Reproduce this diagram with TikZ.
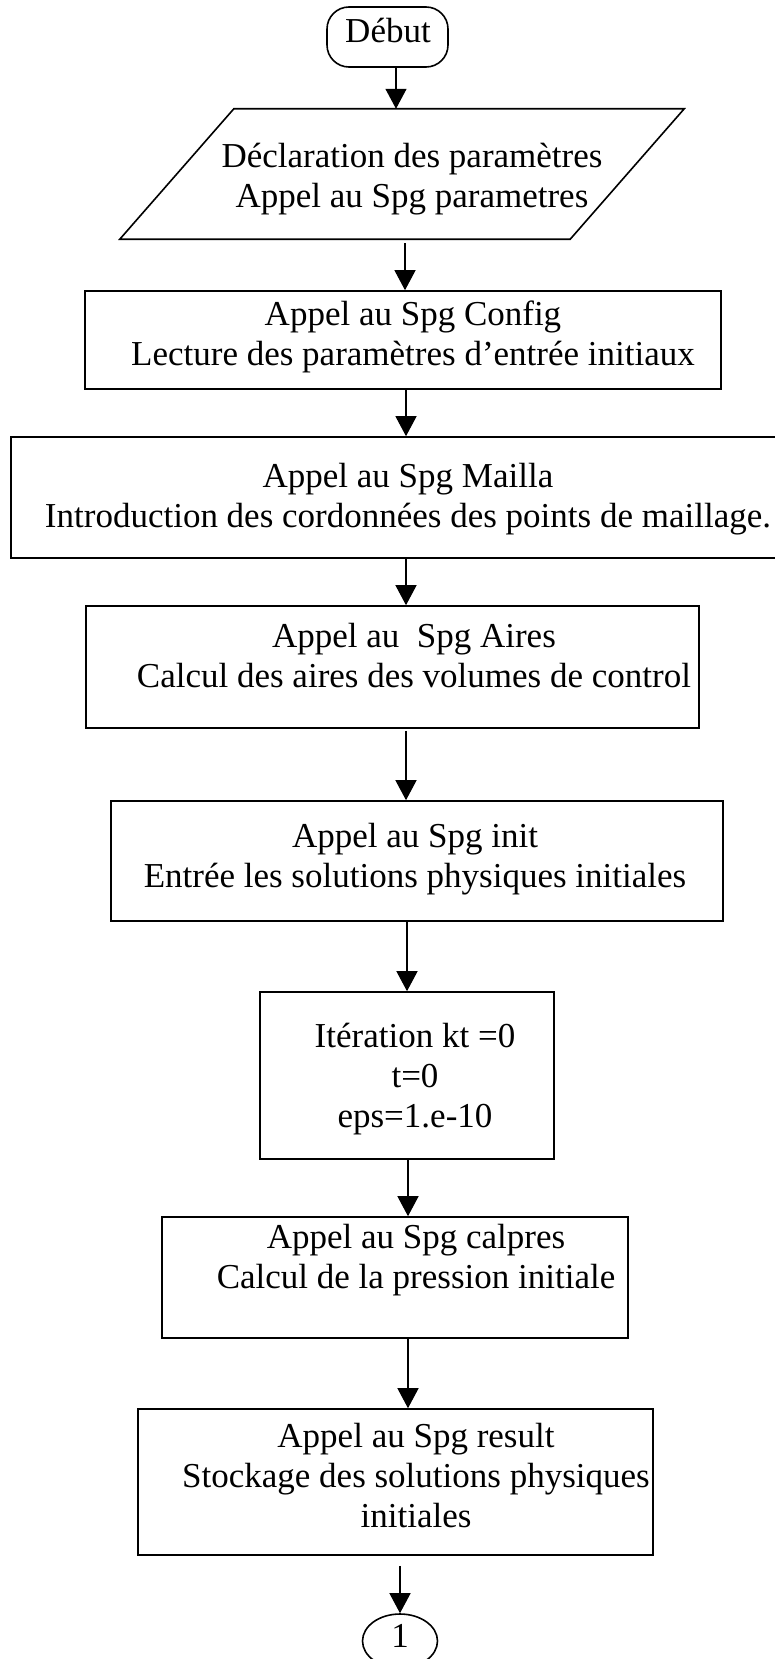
\documentclass[tikz,border=0pt]{standalone}
\usepackage{fontspec}
\setmainfont{Liberation Serif}
\usetikzlibrary{shapes.geometric,arrows.meta}

% centred block of lines whose reference point is the first baseline
\newcommand{\flowtext}[1]{\parbox[t]{760pt}{\centering #1}}

\tikzset{
  box/.style={draw, line width=1.6pt, inner sep=0pt},
  arr/.style={draw, line width=1.3pt, -{Triangle[length=20pt,width=21pt]}},
  txt/.style={anchor=base, inner sep=0pt, font=\fontsize{35}{40}\selectfont},
}

\begin{document}
\begin{tikzpicture}[x=1pt, y=-1pt]
\useasboundingbox (0,0) rectangle (774,1659);
\fill[white] (0,0) rectangle (774,1659);

% shapes
\node[box, rounded corners=22pt, minimum width=121pt, minimum height=60pt] (deb) at (387.5,37) {};
\node[inner sep=0pt, minimum width=450pt, minimum height=130pt] (par) at (402,174) {};
\draw[line width=1.6pt] ([xshift=57pt]par.north west) -- ([xshift=57pt]par.north east)
  -- ([xshift=-57pt]par.south east) -- ([xshift=-57pt]par.south west) -- cycle;
\node[box, minimum width=636pt, minimum height=98pt]  (cfg) at (403,340) {};
\node[box, minimum width=779pt, minimum height=121pt] (mai) at (400.5,497.5) {};
\node[box, minimum width=613pt, minimum height=122pt] (air) at (392.5,667) {};
\node[box, minimum width=612pt, minimum height=120pt] (ini) at (417,861) {};
\node[box, minimum width=294pt, minimum height=167pt] (ite) at (407,1075.5) {};
\node[box, minimum width=466pt, minimum height=121pt] (cal) at (395,1277.5) {};
\node[box, minimum width=515pt, minimum height=146pt] (res) at (395.5,1482) {};
\node[ellipse, draw, line width=1.6pt, inner sep=0pt, minimum width=75pt, minimum height=54pt] (con) at (400,1641) {};

% texts
\node[txt] (tdeb) at (388,43) {\flowtext{Début}};
\node[txt] (tpar) at (412,167) {\flowtext{Déclaration des paramètres\\Appel au Spg parametres}};
\node[txt] (tcfg) at (413,325) {\flowtext{Appel au Spg Config\\Lecture des paramètres d’entrée initiaux}};
\node[txt] (tmai) at (408,487) {\flowtext{Appel au Spg Mailla\\Introduction des cordonnées des points de maillage.}};
\node[txt] (tair) at (414,647) {\flowtext{Appel au\ \ Spg Aires\\Calcul des aires des volumes de control}};
\node[txt] (tini) at (415,847) {\flowtext{Appel au Spg init\\Entrée les solutions physiques initiales}};
\node[txt] (tite) at (415,1047) {\flowtext{Itération kt =0\\t=0\\eps=1.e-10}};
\node[txt] (tcal) at (416,1248) {\flowtext{Appel au Spg calpres\\Calcul de la pression initiale}};
\node[txt] (tres) at (416,1447) {\flowtext{Appel au Spg result\\Stockage des solutions physiques\\initiales}};
\node[txt] (tcon) at (400,1647) {\flowtext{1}};

% connector columns
\coordinate (c1) at (396,0);
\coordinate (c2) at (405,0);
\coordinate (c3) at (406,0);
\coordinate (c4) at (407,0);
\coordinate (c5) at (408,0);
\coordinate (c9) at (400,0);

% connectors
\draw[arr] (deb.south -| c1) -- (par.north -| c1);
\draw[arr, shorten <=4pt] (par.south -| c2) -- (cfg.north -| c2);
\draw[arr] (cfg.south -| c3) -- (mai.north -| c3);
\draw[arr] (mai.south -| c3) -- (air.north -| c3);
\draw[arr, shorten <=2pt] (air.south -| c3) -- (ini.north -| c3);
\draw[arr] (ini.south -| c4) -- (ite.north -| c4);
\draw[arr] (ite.south -| c5) -- (cal.north -| c5);
\draw[arr] (cal.south -| c5) -- (res.north -| c5);
\draw[arr, shorten <=10pt] (res.south -| c9) -- (con.north -| c9);
\end{tikzpicture}
\end{document}
